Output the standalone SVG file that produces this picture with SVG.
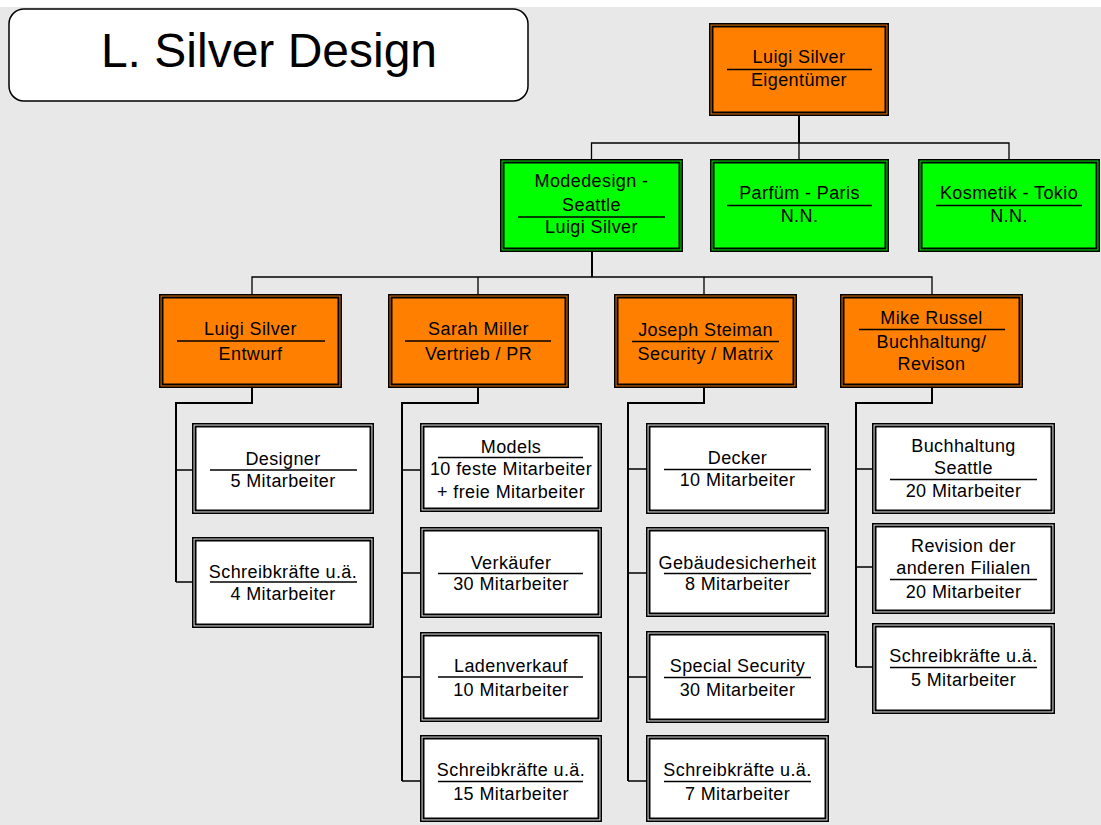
<svg xmlns="http://www.w3.org/2000/svg" width="1101" height="825" viewBox="0 0 1101 825">
<style>
.t{font-family:"Liberation Sans",Arial,sans-serif;font-size:18px;letter-spacing:0.4px;text-anchor:middle;fill:#000}
.title{font-family:"Liberation Sans",Arial,sans-serif;font-size:48px;text-anchor:middle;fill:#000}
.or{fill:#ff8000;stroke:#000;stroke-width:1.6}
.gr{fill:#00ff00;stroke:#000;stroke-width:1.6}
.wh{fill:#fff;stroke:#000;stroke-width:1.6}
.in{fill:none;stroke:#000;stroke-width:2}
.d{stroke:#000;stroke-width:1.5}
.ck{fill:none;stroke:#000;stroke-width:2}
.cn{fill:none;stroke:#000;stroke-width:1.3}
</style>
<rect x="0" y="0" width="1101" height="825" fill="#fff"/>
<rect x="0" y="7" width="1101" height="818" fill="#e8e8e8"/>

<g id="title">
<rect x="9" y="9" width="519" height="92" rx="15" ry="15" fill="#fff" stroke="#000" stroke-width="1.5"/>
<text class="title" x="269" y="67">L. Silver Design</text>
</g>

<g id="connectors">
<path class="ck" d="M799 116V143"/>
<path class="cn" d="M591.5 159V143H1009V159M799 143V159"/>
<path class="ck" d="M592 252V277"/>
<path class="cn" d="M252 294V277H932V294M478 277V294M704 277V294"/>
<path class="ck" d="M252 388V403H176V582"/>
<path class="cn" d="M176 470H192M176 582H192"/>
<path class="ck" d="M478 388V403H402V781"/>
<path class="cn" d="M402 470H420M402 573H420M402 677H420M402 781H420"/>
<path class="ck" d="M704 388V403H628V781"/>
<path class="cn" d="M628 469H646M628 573H646M628 677H646M628 781H646"/>
<path class="ck" d="M932 388V403H856V667"/>
<path class="cn" d="M856 469H872M856 567H872M856 667H872"/>
</g>

<g id="owner">
<rect class="or" x="709.8" y="23.8" width="178.4" height="91.4"/>
<rect class="in" x="712.5" y="26.5" width="173" height="86"/>
<text class="t" x="799" y="63">Luigi Silver</text>
<line class="d" x1="727" y1="69.5" x2="872" y2="69.5"/>
<text class="t" x="799" y="86">Eigentümer</text>
</g>

<g id="modedesign">
<rect class="gr" x="500.8" y="159.8" width="181.4" height="91.4"/>
<rect class="in" x="503.5" y="162.5" width="176" height="86"/>
<text class="t" x="591.5" y="186.5">Modedesign -</text>
<text class="t" x="591.5" y="210.5">Seattle</text>
<line class="d" x1="518" y1="217" x2="665" y2="217"/>
<text class="t" x="591.5" y="233">Luigi Silver</text>
</g>

<g id="parfuem">
<rect class="gr" x="710.8" y="159.8" width="177.4" height="91.4"/>
<rect class="in" x="713.5" y="162.5" width="172" height="86"/>
<text class="t" x="799.5" y="199">Parfüm - Paris</text>
<line class="d" x1="727" y1="205.5" x2="872" y2="205.5"/>
<text class="t" x="799.5" y="222">N.N.</text>
</g>

<g id="kosmetik">
<rect class="gr" x="918.8" y="159.8" width="180.4" height="91.4"/>
<rect class="in" x="921.5" y="162.5" width="175" height="86"/>
<text class="t" x="1009" y="199">Kosmetik - Tokio</text>
<line class="d" x1="936" y1="205.5" x2="1082" y2="205.5"/>
<text class="t" x="1009" y="222">N.N.</text>
</g>

<g id="entwurf">
<rect class="or" x="159.8" y="294.8" width="181.4" height="92.4"/>
<rect class="in" x="162.5" y="297.5" width="176" height="87"/>
<text class="t" x="250.5" y="335">Luigi Silver</text>
<line class="d" x1="177" y1="341" x2="325" y2="341"/>
<text class="t" x="250.5" y="360">Entwurf</text>
</g>

<g id="vertrieb">
<rect class="or" x="388.8" y="294.8" width="179.4" height="92.4"/>
<rect class="in" x="391.5" y="297.5" width="174" height="87"/>
<text class="t" x="478.5" y="335">Sarah Miller</text>
<line class="d" x1="405" y1="341" x2="551" y2="341"/>
<text class="t" x="478.5" y="360">Vertrieb / PR</text>
</g>

<g id="security">
<rect class="or" x="614.8" y="294.8" width="181.4" height="92.4"/>
<rect class="in" x="617.5" y="297.5" width="176" height="87"/>
<text class="t" x="705.5" y="336">Joseph Steiman</text>
<line class="d" x1="632" y1="341.5" x2="779" y2="341.5"/>
<text class="t" x="705.5" y="360">Security / Matrix</text>
</g>

<g id="buchhaltung">
<rect class="or" x="840.8" y="294.8" width="181.4" height="92.4"/>
<rect class="in" x="843.5" y="297.5" width="176" height="87"/>
<text class="t" x="931.5" y="324">Mike Russel</text>
<line class="d" x1="859" y1="329.5" x2="1005" y2="329.5"/>
<text class="t" x="931.5" y="348">Buchhaltung/</text>
<text class="t" x="931.5" y="370">Revison</text>
</g>

<g id="designer">
<rect class="wh" x="192.8" y="423.8" width="180.4" height="89.4"/>
<rect class="in" x="195.5" y="426.5" width="175" height="84"/>
<text class="t" x="283" y="465">Designer</text>
<line class="d" x1="210" y1="470" x2="357" y2="470"/>
<text class="t" x="283" y="487">5 Mitarbeiter</text>
</g>

<g id="schreib1">
<rect class="wh" x="192.8" y="537.8" width="180.4" height="89.4"/>
<rect class="in" x="195.5" y="540.5" width="175" height="84"/>
<text class="t" x="283" y="578">Schreibkräfte u.ä.</text>
<line class="d" x1="210" y1="582" x2="357" y2="582"/>
<text class="t" x="283" y="600">4 Mitarbeiter</text>
</g>

<g id="models">
<rect class="wh" x="420.8" y="423.8" width="180.4" height="87.4"/>
<rect class="in" x="423.5" y="426.5" width="175" height="82"/>
<text class="t" x="511" y="452.5">Models</text>
<line class="d" x1="438" y1="457.5" x2="583" y2="457.5"/>
<text class="t" x="511" y="475">10 feste Mitarbeiter</text>
<text class="t" x="511" y="498">+ freie Mitarbeiter</text>
</g>

<g id="verkaeufer">
<rect class="wh" x="420.8" y="527.8" width="180.4" height="89.4"/>
<rect class="in" x="423.5" y="530.5" width="175" height="84"/>
<text class="t" x="511" y="568.5">Verkäufer</text>
<line class="d" x1="438" y1="573.5" x2="583" y2="573.5"/>
<text class="t" x="511" y="590">30 Mitarbeiter</text>
</g>

<g id="ladenverkauf">
<rect class="wh" x="420.8" y="632.8" width="180.4" height="88.4"/>
<rect class="in" x="423.5" y="635.5" width="175" height="83"/>
<text class="t" x="511" y="671.5">Ladenverkauf</text>
<line class="d" x1="438" y1="677" x2="583" y2="677"/>
<text class="t" x="511" y="696">10 Mitarbeiter</text>
</g>

<g id="schreib2">
<rect class="wh" x="420.8" y="735.8" width="180.4" height="85.4"/>
<rect class="in" x="423.5" y="738.5" width="175" height="80"/>
<text class="t" x="511" y="776">Schreibkräfte u.ä.</text>
<line class="d" x1="438" y1="781.5" x2="583" y2="781.5"/>
<text class="t" x="511" y="800">15 Mitarbeiter</text>
</g>

<g id="decker">
<rect class="wh" x="646.8" y="423.8" width="181.4" height="89.4"/>
<rect class="in" x="649.5" y="426.5" width="176" height="84"/>
<text class="t" x="737.5" y="464">Decker</text>
<line class="d" x1="664" y1="469.5" x2="811" y2="469.5"/>
<text class="t" x="737.5" y="486">10 Mitarbeiter</text>
</g>

<g id="gebaeude">
<rect class="wh" x="646.8" y="527.8" width="181.4" height="88.4"/>
<rect class="in" x="649.5" y="530.5" width="176" height="83"/>
<text class="t" x="737.5" y="568.5">Gebäudesicherheit</text>
<line class="d" x1="664" y1="573.5" x2="811" y2="573.5"/>
<text class="t" x="737.5" y="590">8 Mitarbeiter</text>
</g>

<g id="special">
<rect class="wh" x="646.8" y="631.8" width="181.4" height="90.4"/>
<rect class="in" x="649.5" y="634.5" width="176" height="85"/>
<text class="t" x="737.5" y="671.5">Special Security</text>
<line class="d" x1="664" y1="677.5" x2="811" y2="677.5"/>
<text class="t" x="737.5" y="695.5">30 Mitarbeiter</text>
</g>

<g id="schreib3">
<rect class="wh" x="646.8" y="735.8" width="181.4" height="85.4"/>
<rect class="in" x="649.5" y="738.5" width="176" height="80"/>
<text class="t" x="737.5" y="776">Schreibkräfte u.ä.</text>
<line class="d" x1="664" y1="781.5" x2="811" y2="781.5"/>
<text class="t" x="737.5" y="800">7 Mitarbeiter</text>
</g>

<g id="buchseattle">
<rect class="wh" x="872.8" y="423.8" width="181.4" height="89.4"/>
<rect class="in" x="875.5" y="426.5" width="176" height="84"/>
<text class="t" x="963.5" y="451.5">Buchhaltung</text>
<text class="t" x="963.5" y="474">Seattle</text>
<line class="d" x1="890" y1="479.5" x2="1037" y2="479.5"/>
<text class="t" x="963.5" y="497">20 Mitarbeiter</text>
</g>

<g id="revision">
<rect class="wh" x="872.8" y="523.8" width="181.4" height="89.4"/>
<rect class="in" x="875.5" y="526.5" width="176" height="84"/>
<text class="t" x="963.5" y="552">Revision der</text>
<text class="t" x="963.5" y="573.5">anderen Filialen</text>
<line class="d" x1="890" y1="579.5" x2="1037" y2="579.5"/>
<text class="t" x="963.5" y="598">20 Mitarbeiter</text>
</g>

<g id="schreib4">
<rect class="wh" x="872.8" y="623.8" width="181.4" height="89.4"/>
<rect class="in" x="875.5" y="626.5" width="176" height="84"/>
<text class="t" x="963.5" y="661.5">Schreibkräfte u.ä.</text>
<line class="d" x1="890" y1="667.5" x2="1037" y2="667.5"/>
<text class="t" x="963.5" y="686">5 Mitarbeiter</text>
</g>
</svg>
